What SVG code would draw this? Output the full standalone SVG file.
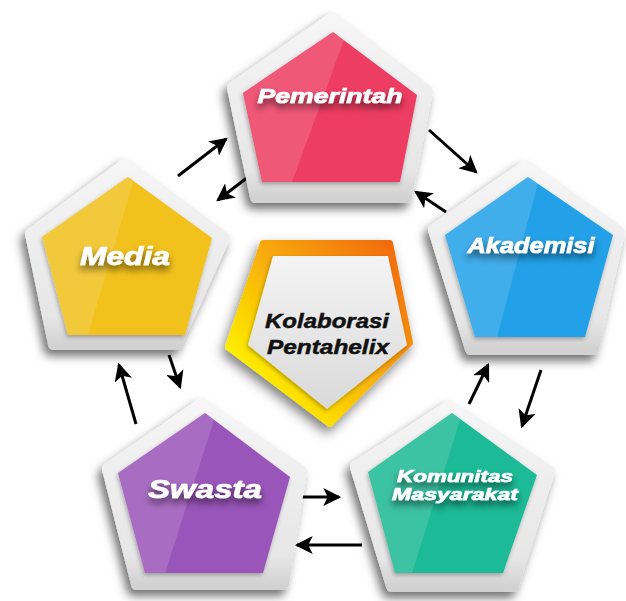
<svg xmlns="http://www.w3.org/2000/svg" width="626" height="601" viewBox="0 0 626 601">
<defs>
<style>
.frame{fill:url(#gFrame);stroke:url(#gFrame);stroke-width:12;stroke-linejoin:round;filter:url(#shadow)}
.inner{filter:url(#ishadow)}
.hl{fill:#fff;opacity:0.14}
.lbl{font-family:"Liberation Sans",Arial,sans-serif;font-weight:bold;font-style:italic;fill:#fff;stroke:#fff;stroke-width:0.7;text-anchor:middle;filter:url(#tshadow)}
.ctr{font-family:"Liberation Sans",Arial,sans-serif;font-weight:bold;font-style:italic;fill:#111;stroke:#111;stroke-width:0.5;text-anchor:middle}
.arrow{stroke:#000;stroke-width:3;fill:none;marker-end:url(#ah)}
</style>
<linearGradient id="gFrame" x1="0" y1="0" x2="0" y2="1">
<stop offset="0" stop-color="#f6f6f6"/>
<stop offset="0.85" stop-color="#e6e6e6"/>
<stop offset="1" stop-color="#d2d2d2"/>
</linearGradient>
<linearGradient id="gRing" x1="0.9" y1="0" x2="0.1" y2="0.75">
<stop offset="0" stop-color="#f26a0c"/>
<stop offset="0.45" stop-color="#f7a40a"/>
<stop offset="1" stop-color="#fff200"/>
</linearGradient>
<linearGradient id="gCore" x1="0" y1="0" x2="0" y2="1">
<stop offset="0" stop-color="#f4f4f4"/>
<stop offset="1" stop-color="#d9d9d9"/>
</linearGradient>
<filter id="shadow" x="-30%" y="-30%" width="160%" height="160%">
<feDropShadow dx="-4" dy="6" stdDeviation="5" flood-color="#000" flood-opacity="0.55"/>
</filter>
<filter id="ishadow" x="-20%" y="-20%" width="140%" height="140%">
<feDropShadow dx="-1" dy="2" stdDeviation="2" flood-color="#000" flood-opacity="0.3"/>
</filter>
<filter id="tshadow" x="-20%" y="-50%" width="140%" height="220%">
<feDropShadow dx="0" dy="5" stdDeviation="3.5" flood-color="#000" flood-opacity="0.55"/>
</filter>
<filter id="cshadow" x="-30%" y="-30%" width="160%" height="160%">
<feDropShadow dx="-3" dy="6" stdDeviation="6" flood-color="#000" flood-opacity="0.5"/>
</filter>
<marker id="ah" markerUnits="userSpaceOnUse" markerWidth="18" markerHeight="18" viewBox="0 0 16 16" refX="14" refY="8" orient="auto">
<path d="M0,0 L16,8 L0,16 L4,8 Z" fill="#000"/>
</marker>
</defs>

<g id="connectors">
<line class="arrow" x1="178" y1="176" x2="226" y2="139"/>
<line class="arrow" x1="248" y1="177" x2="218" y2="200"/>
<line class="arrow" x1="429" y1="130" x2="476" y2="172"/>
<line class="arrow" x1="446" y1="212" x2="416" y2="192"/>
<line class="arrow" x1="469" y1="404" x2="488" y2="365"/>
<line class="arrow" x1="541" y1="370" x2="522" y2="426"/>
<line class="arrow" x1="297" y1="497" x2="339" y2="497"/>
<line class="arrow" x1="362" y1="545" x2="297" y2="545"/>
<line class="arrow" x1="136" y1="424" x2="119" y2="365"/>
<line class="arrow" x1="169" y1="355" x2="180" y2="387"/>
</g>

<g id="center">
<polygon points="263,243 390,243 410,343 330,424 228,347" fill="url(#gRing)" stroke="url(#gRing)" stroke-width="6" stroke-linejoin="round" filter="url(#cshadow)"/>
<polygon points="273,256 388,256 407,345 327,409 248,345" fill="url(#gCore)" filter="url(#ishadow)"/>
<text class="ctr" x="327" y="328" font-size="20" textLength="124" lengthAdjust="spacingAndGlyphs">Kolaborasi</text>
<text class="ctr" x="328" y="354" font-size="20" textLength="122" lengthAdjust="spacingAndGlyphs">Pentahelix</text>
</g>

<g id="pemerintah">
<polygon class="frame" points="333,18 427,91 406,197 256,197 233,88"/>
<polygon class="inner" points="333,32 417,95 400,182 262,182 243,93" fill="#ee3d62"/>
<polygon class="hl" points="333,32 243,93 262,182 292,182 344,40"/>
<text class="lbl" x="330" y="103" font-size="20" textLength="145" lengthAdjust="spacingAndGlyphs">Pemerintah</text>
</g>

<g id="media">
<polygon class="frame" points="126,164 224,238 176,344 54,344 31,234"/>
<polygon class="inner" points="128,177 212,238 185,335 68,335 42,237" fill="#f2c11c"/>
<polygon class="hl" points="128,177 42,237 68,335 88,335 133,182"/>
<text class="lbl" x="125" y="265" font-size="25" textLength="90" lengthAdjust="spacingAndGlyphs">Media</text>
</g>

<g id="akademisi">
<polygon class="frame" points="526,166 619,232 593,349 471,349 434,230"/>
<polygon class="inner" points="528,177 613,235 585,337 475,337 445,235" fill="#22a1e9"/>
<polygon class="hl" points="528,177 445,235 475,337 497,337 538,183"/>
<text class="lbl" x="531" y="253" font-size="22" textLength="127" lengthAdjust="spacingAndGlyphs">Akademisi</text>
</g>

<g id="swasta">
<polygon class="frame" points="202,404 301,471 283,584 137,584 108,469"/>
<polygon class="inner" points="205,413 290,477 263,573 145,573 118,473" fill="#9a55ba"/>
<polygon class="hl" points="205,413 118,473 145,573 165,573 214,420"/>
<text class="lbl" x="205" y="498" font-size="25" textLength="114" lengthAdjust="spacingAndGlyphs">Swasta</text>
</g>

<g id="komunitas">
<polygon class="frame" points="450,406 549,471 513,586 392,586 356,467"/>
<polygon class="inner" points="452,413 537,475 503,573 395,573 368,472" fill="#1fba96"/>
<polygon class="hl" points="452,413 368,472 395,573 412,573 460,420"/>
<text class="lbl" x="455" y="482" font-size="17" textLength="116" lengthAdjust="spacingAndGlyphs">Komunitas</text>
<text class="lbl" x="455" y="500" font-size="17" textLength="126" lengthAdjust="spacingAndGlyphs">Masyarakat</text>
</g>
</svg>
